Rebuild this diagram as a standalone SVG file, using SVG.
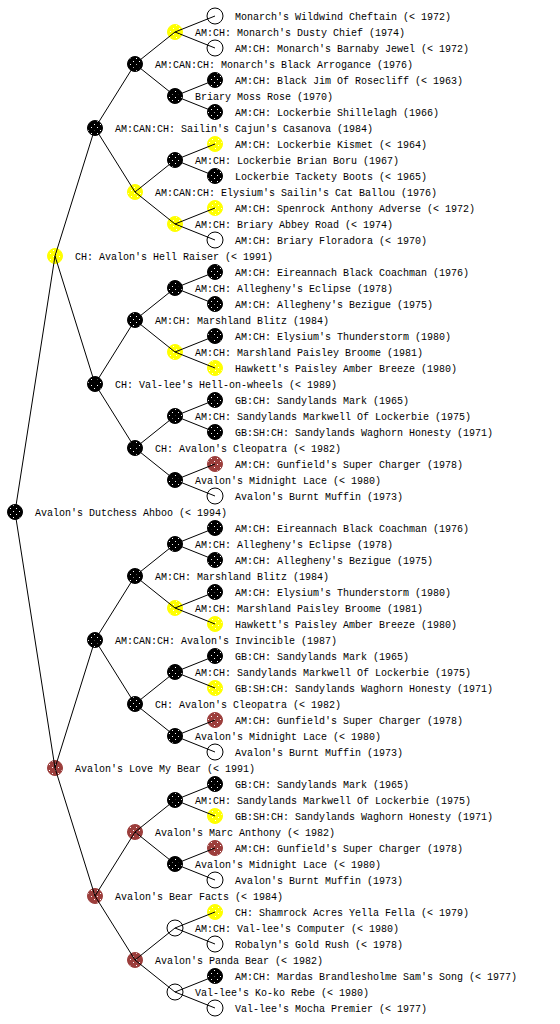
<svg xmlns="http://www.w3.org/2000/svg" width="560" height="1024" viewBox="0 0 560 1024">
<defs>
<pattern id="pk" width="6" height="6" patternUnits="userSpaceOnUse"><rect width="6" height="6" fill="#000"/><rect x="1" y="1" width="1" height="1" fill="#fff"/><rect x="4" y="4" width="1" height="1" fill="#fff"/></pattern>
<pattern id="py" width="6" height="6" patternUnits="userSpaceOnUse"><rect width="6" height="6" fill="#ffff00"/><rect x="2" y="1" width="1" height="1" fill="#fff"/><rect x="5" y="4" width="1" height="1" fill="#fff"/></pattern>
<pattern id="pr" width="6" height="6" patternUnits="userSpaceOnUse"><rect width="6" height="6" fill="#9c3e3c"/><rect x="1" y="2" width="1" height="1" fill="#fff"/><rect x="4" y="5" width="1" height="1" fill="#fff"/></pattern>
</defs>
<style>
text{font-family:"Liberation Mono","DejaVu Sans Mono",monospace;font-size:10px;fill:#000}
.k{fill:url(#pk);stroke:#000;stroke-width:1}
.y{fill:url(#py);stroke:#ffff00;stroke-width:1}
.r{fill:url(#pr);stroke:#9c3e3c;stroke-width:1}
.w{fill:none;stroke:#000;stroke-width:1}
.c{fill:none;stroke:#000;stroke-width:1}
</style>
<rect width="560" height="1024" fill="#fff"/>
<g id="nodes">
<g id="n0"><circle class="k" cx="15" cy="512" r="7.5"/><text x="35" y="516">Avalon's Dutchess Ahboo (&lt; 1994)</text></g>
<g id="n1"><circle class="y" cx="55" cy="256" r="7.5"/><text x="75" y="260">CH: Avalon's Hell Raiser (&lt; 1991)</text></g>
<g id="n2"><circle class="r" cx="55" cy="768" r="7.5"/><text x="75" y="772">Avalon's Love My Bear (&lt; 1991)</text></g>
<g id="n3"><circle class="k" cx="95" cy="128" r="7.5"/><text x="115" y="132">AM:CAN:CH: Sailin's Cajun's Casanova (1984)</text></g>
<g id="n4"><circle class="k" cx="95" cy="384" r="7.5"/><text x="115" y="388">CH: Val-lee's Hell-on-wheels (&lt; 1989)</text></g>
<g id="n5"><circle class="k" cx="95" cy="640" r="7.5"/><text x="115" y="644">AM:CAN:CH: Avalon's Invincible (1987)</text></g>
<g id="n6"><circle class="r" cx="95" cy="896" r="7.5"/><text x="115" y="900">Avalon's Bear Facts (&lt; 1984)</text></g>
<g id="n7"><circle class="k" cx="135" cy="64" r="7.5"/><text x="155" y="68">AM:CAN:CH: Monarch's Black Arrogance (1976)</text></g>
<g id="n8"><circle class="y" cx="135" cy="192" r="7.5"/><text x="155" y="196">AM:CAN:CH: Elysium's Sailin's Cat Ballou (1976)</text></g>
<g id="n9"><circle class="k" cx="135" cy="320" r="7.5"/><text x="155" y="324">AM:CH: Marshland Blitz (1984)</text></g>
<g id="n10"><circle class="k" cx="135" cy="448" r="7.5"/><text x="155" y="452">CH: Avalon's Cleopatra (&lt; 1982)</text></g>
<g id="n11"><circle class="k" cx="135" cy="576" r="7.5"/><text x="155" y="580">AM:CH: Marshland Blitz (1984)</text></g>
<g id="n12"><circle class="k" cx="135" cy="704" r="7.5"/><text x="155" y="708">CH: Avalon's Cleopatra (&lt; 1982)</text></g>
<g id="n13"><circle class="r" cx="135" cy="832" r="7.5"/><text x="155" y="836">Avalon's Marc Anthony (&lt; 1982)</text></g>
<g id="n14"><circle class="r" cx="135" cy="960" r="7.5"/><text x="155" y="964">Avalon's Panda Bear (&lt; 1982)</text></g>
<g id="n15"><circle class="y" cx="175" cy="32" r="7.5"/><text x="195" y="36">AM:CH: Monarch's Dusty Chief (1974)</text></g>
<g id="n16"><circle class="k" cx="175" cy="96" r="7.5"/><text x="195" y="100">Briary Moss Rose (1970)</text></g>
<g id="n17"><circle class="k" cx="175" cy="160" r="7.5"/><text x="195" y="164">AM:CH: Lockerbie Brian Boru (1967)</text></g>
<g id="n18"><circle class="y" cx="175" cy="224" r="7.5"/><text x="195" y="228">AM:CH: Briary Abbey Road (&lt; 1974)</text></g>
<g id="n19"><circle class="k" cx="175" cy="288" r="7.5"/><text x="195" y="292">AM:CH: Allegheny's Eclipse (1978)</text></g>
<g id="n20"><circle class="y" cx="175" cy="352" r="7.5"/><text x="195" y="356">AM:CH: Marshland Paisley Broome (1981)</text></g>
<g id="n21"><circle class="k" cx="175" cy="416" r="7.5"/><text x="195" y="420">AM:CH: Sandylands Markwell Of Lockerbie (1975)</text></g>
<g id="n22"><circle class="k" cx="175" cy="480" r="7.5"/><text x="195" y="484">Avalon's Midnight Lace (&lt; 1980)</text></g>
<g id="n23"><circle class="k" cx="175" cy="544" r="7.5"/><text x="195" y="548">AM:CH: Allegheny's Eclipse (1978)</text></g>
<g id="n24"><circle class="y" cx="175" cy="608" r="7.5"/><text x="195" y="612">AM:CH: Marshland Paisley Broome (1981)</text></g>
<g id="n25"><circle class="k" cx="175" cy="672" r="7.5"/><text x="195" y="676">AM:CH: Sandylands Markwell Of Lockerbie (1975)</text></g>
<g id="n26"><circle class="k" cx="175" cy="736" r="7.5"/><text x="195" y="740">Avalon's Midnight Lace (&lt; 1980)</text></g>
<g id="n27"><circle class="k" cx="175" cy="800" r="7.5"/><text x="195" y="804">AM:CH: Sandylands Markwell Of Lockerbie (1975)</text></g>
<g id="n28"><circle class="k" cx="175" cy="864" r="7.5"/><text x="195" y="868">Avalon's Midnight Lace (&lt; 1980)</text></g>
<g id="n29"><circle class="w" cx="175" cy="928" r="8"/><text x="195" y="932">AM:CH: Val-lee's Computer (&lt; 1980)</text></g>
<g id="n30"><circle class="w" cx="175" cy="992" r="8"/><text x="195" y="996">Val-lee's Ko-ko Rebe (&lt; 1980)</text></g>
<g id="n31"><circle class="w" cx="215" cy="16" r="8"/><text x="235" y="20">Monarch's Wildwind Cheftain (&lt; 1972)</text></g>
<g id="n32"><circle class="w" cx="215" cy="48" r="8"/><text x="235" y="52">AM:CH: Monarch's Barnaby Jewel (&lt; 1972)</text></g>
<g id="n33"><circle class="k" cx="215" cy="80" r="7.5"/><text x="235" y="84">AM:CH: Black Jim Of Rosecliff (&lt; 1963)</text></g>
<g id="n34"><circle class="k" cx="215" cy="112" r="7.5"/><text x="235" y="116">AM:CH: Lockerbie Shillelagh (1966)</text></g>
<g id="n35"><circle class="y" cx="215" cy="144" r="7.5"/><text x="235" y="148">AM:CH: Lockerbie Kismet (&lt; 1964)</text></g>
<g id="n36"><circle class="k" cx="215" cy="176" r="7.5"/><text x="235" y="180">Lockerbie Tackety Boots (&lt; 1965)</text></g>
<g id="n37"><circle class="y" cx="215" cy="208" r="7.5"/><text x="235" y="212">AM:CH: Spenrock Anthony Adverse (&lt; 1972)</text></g>
<g id="n38"><circle class="w" cx="215" cy="240" r="8"/><text x="235" y="244">AM:CH: Briary Floradora (&lt; 1970)</text></g>
<g id="n39"><circle class="k" cx="215" cy="272" r="7.5"/><text x="235" y="276">AM:CH: Eireannach Black Coachman (1976)</text></g>
<g id="n40"><circle class="k" cx="215" cy="304" r="7.5"/><text x="235" y="308">AM:CH: Allegheny's Bezigue (1975)</text></g>
<g id="n41"><circle class="k" cx="215" cy="336" r="7.5"/><text x="235" y="340">AM:CH: Elysium's Thunderstorm (1980)</text></g>
<g id="n42"><circle class="y" cx="215" cy="368" r="7.5"/><text x="235" y="372">Hawkett's Paisley Amber Breeze (1980)</text></g>
<g id="n43"><circle class="k" cx="215" cy="400" r="7.5"/><text x="235" y="404">GB:CH: Sandylands Mark (1965)</text></g>
<g id="n44"><circle class="k" cx="215" cy="432" r="7.5"/><text x="235" y="436">GB:SH:CH: Sandylands Waghorn Honesty (1971)</text></g>
<g id="n45"><circle class="r" cx="215" cy="464" r="7.5"/><text x="235" y="468">AM:CH: Gunfield's Super Charger (1978)</text></g>
<g id="n46"><circle class="w" cx="215" cy="496" r="8"/><text x="235" y="500">Avalon's Burnt Muffin (1973)</text></g>
<g id="n47"><circle class="k" cx="215" cy="528" r="7.5"/><text x="235" y="532">AM:CH: Eireannach Black Coachman (1976)</text></g>
<g id="n48"><circle class="k" cx="215" cy="560" r="7.5"/><text x="235" y="564">AM:CH: Allegheny's Bezigue (1975)</text></g>
<g id="n49"><circle class="k" cx="215" cy="592" r="7.5"/><text x="235" y="596">AM:CH: Elysium's Thunderstorm (1980)</text></g>
<g id="n50"><circle class="y" cx="215" cy="624" r="7.5"/><text x="235" y="628">Hawkett's Paisley Amber Breeze (1980)</text></g>
<g id="n51"><circle class="k" cx="215" cy="656" r="7.5"/><text x="235" y="660">GB:CH: Sandylands Mark (1965)</text></g>
<g id="n52"><circle class="y" cx="215" cy="688" r="7.5"/><text x="235" y="692">GB:SH:CH: Sandylands Waghorn Honesty (1971)</text></g>
<g id="n53"><circle class="r" cx="215" cy="720" r="7.5"/><text x="235" y="724">AM:CH: Gunfield's Super Charger (1978)</text></g>
<g id="n54"><circle class="w" cx="215" cy="752" r="8"/><text x="235" y="756">Avalon's Burnt Muffin (1973)</text></g>
<g id="n55"><circle class="k" cx="215" cy="784" r="7.5"/><text x="235" y="788">GB:CH: Sandylands Mark (1965)</text></g>
<g id="n56"><circle class="y" cx="215" cy="816" r="7.5"/><text x="235" y="820">GB:SH:CH: Sandylands Waghorn Honesty (1971)</text></g>
<g id="n57"><circle class="r" cx="215" cy="848" r="7.5"/><text x="235" y="852">AM:CH: Gunfield's Super Charger (1978)</text></g>
<g id="n58"><circle class="w" cx="215" cy="880" r="8"/><text x="235" y="884">Avalon's Burnt Muffin (1973)</text></g>
<g id="n59"><circle class="y" cx="215" cy="912" r="7.5"/><text x="235" y="916">CH: Shamrock Acres Yella Fella (&lt; 1979)</text></g>
<g id="n60"><circle class="w" cx="215" cy="944" r="8"/><text x="235" y="948">Robalyn's Gold Rush (&lt; 1978)</text></g>
<g id="n61"><circle class="k" cx="215" cy="976" r="7.5"/><text x="235" y="980">AM:CH: Mardas Brandlesholme Sam's Song (&lt; 1977)</text></g>
<g id="n62"><circle class="w" cx="215" cy="1008" r="8"/><text x="235" y="1012">Val-lee's Mocha Premier (&lt; 1977)</text></g>
</g>
<g id="connectors">
<path class="c" d="M15 512L55 256M15 512L55 768
M55 256L95 128M55 256L95 384M55 768L95 640M55 768L95 896
M95 128L135 64M95 128L135 192M95 384L135 320M95 384L135 448M95 640L135 576M95 640L135 704M95 896L135 832M95 896L135 960
M135 64L175 32M135 64L175 96M135 192L175 160M135 192L175 224M135 320L175 288M135 320L175 352M135 448L175 416M135 448L175 480
M135 576L175 544M135 576L175 608M135 704L175 672M135 704L175 736M135 832L175 800M135 832L175 864M135 960L175 928M135 960L175 992
M175 32L215 16M175 32L215 48M175 96L215 80M175 96L215 112M175 160L215 144M175 160L215 176M175 224L215 208M175 224L215 240
M175 288L215 272M175 288L215 304M175 352L215 336M175 352L215 368M175 416L215 400M175 416L215 432M175 480L215 464M175 480L215 496
M175 544L215 528M175 544L215 560M175 608L215 592M175 608L215 624M175 672L215 656M175 672L215 688M175 736L215 720M175 736L215 752
M175 800L215 784M175 800L215 816M175 864L215 848M175 864L215 880M175 928L215 912M175 928L215 944M175 992L215 976M175 992L215 1008"/>
</g>
</svg>
